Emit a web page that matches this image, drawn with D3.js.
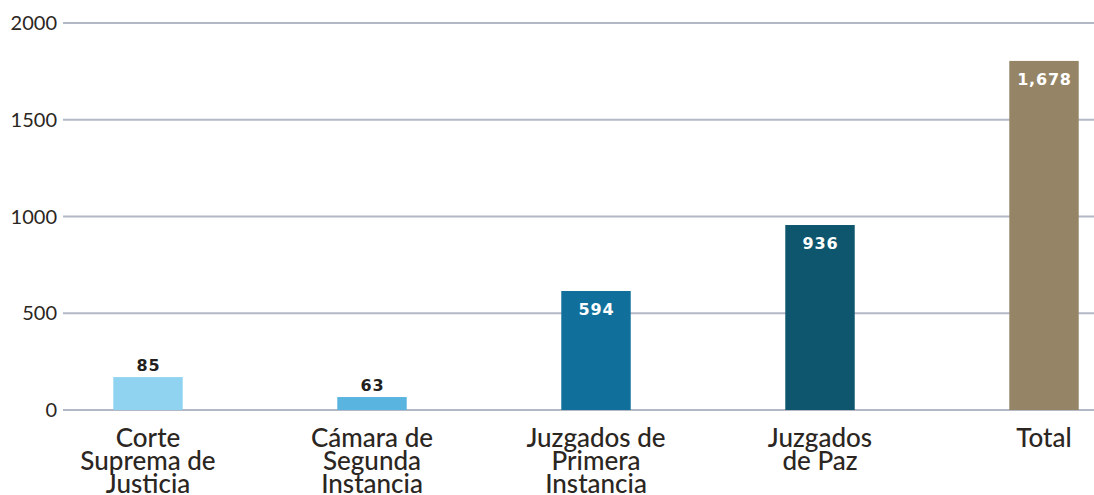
<!DOCTYPE html>
<html>
<head>
<meta charset="utf-8">
<script src="https://cdn.jsdelivr.net/npm/d3@7"></script>
<style>
  body { margin: 0; background: #fff; }
  .tick-label { font-family: Lato, sans-serif; font-size: 20px; fill: #2b2622; }
  .cat-label { font-family: Lato, sans-serif; font-size: 26px; font-weight: 500; fill: #2b2622; }
  .val-label { font-family: "DejaVu Sans", sans-serif; font-weight: 700; font-size: 16px; letter-spacing: 0.8px; }
</style>
</head>
<body>
<svg id="chart" width="1094" height="495"></svg>
<script>
'use strict';

// categories (line-broken as in the picture)
const categories = [
  ['Corte', 'Suprema de', 'Justicia'],
  ['Cámara de', 'Segunda', 'Instancia'],
  ['Juzgados de', 'Primera', 'Instancia'],
  ['Juzgados', 'de Paz'],
  ['Total']
];
// bar heights as drawn
const barValues = [170, 67, 615, 956, 1804];
// printed value labels
const valueLabels = ['85', '63', '594', '936', '1,678'];
const barColors = ['#8fd3f0', '#5ab4e0', '#11709b', '#0e566e', '#958566'];
const yTicks = [0, 500, 1000, 1500, 2000];

const svg = d3.select('#chart');

const y = d3.scaleLinear().domain([0, 2000]).range([410, 23]);
const x = d3.scaleBand()
  .domain(d3.range(categories.length))
  .range([36, 1156])
  .paddingInner(0.69)
  .paddingOuter(0.345);

// gridlines
const grid = svg.append('g');
grid.selectAll('line')
  .data(yTicks)
  .join('line')
  .attr('x1', 63)
  .attr('x2', 1094)
  .attr('y1', d => y(d))
  .attr('y2', d => y(d))
  .attr('stroke', '#b3b8c6')
  .attr('stroke-width', 2);

grid.selectAll('text')
  .data(yTicks)
  .join('text')
  .attr('class', 'tick-label')
  .attr('x', 57)
  .attr('y', d => y(d) + 7)
  .attr('text-anchor', 'end')
  .text(d => d);

// bars
svg.append('g')
  .selectAll('rect')
  .data(barValues)
  .join('rect')
  .attr('x', (d, i) => x(i))
  .attr('width', x.bandwidth())
  .attr('y', d => y(d))
  .attr('height', d => y(0) - y(d))
  .attr('fill', (d, i) => barColors[i]);

// value labels: small bars get the label above, tall ones inside in white
svg.append('g')
  .selectAll('text')
  .data(barValues)
  .join('text')
  .attr('class', 'val-label')
  .attr('x', (d, i) => x(i) + x.bandwidth() / 2 + 0.5)
  .attr('y', d => d < 300 ? y(d) - 6 : y(d) + 24)
  .attr('text-anchor', 'middle')
  .attr('fill', d => d < 300 ? '#231f20' : '#ffffff')
  .text((d, i) => valueLabels[i]);

// category labels
const cats = svg.append('g')
  .selectAll('text')
  .data(categories)
  .join('text')
  .attr('class', 'cat-label')
  .attr('text-anchor', 'middle')
  .attr('x', (d, i) => x(i) + x.bandwidth() / 2)
  .attr('y', 447);

cats.selectAll('tspan')
  .data(d => d)
  .join('tspan')
  .attr('x', function() { return this.parentNode.getAttribute('x'); })
  .attr('dy', (d, i) => i === 0 ? 0 : 23)
  .text(d => d);
</script>
</body>
</html>
